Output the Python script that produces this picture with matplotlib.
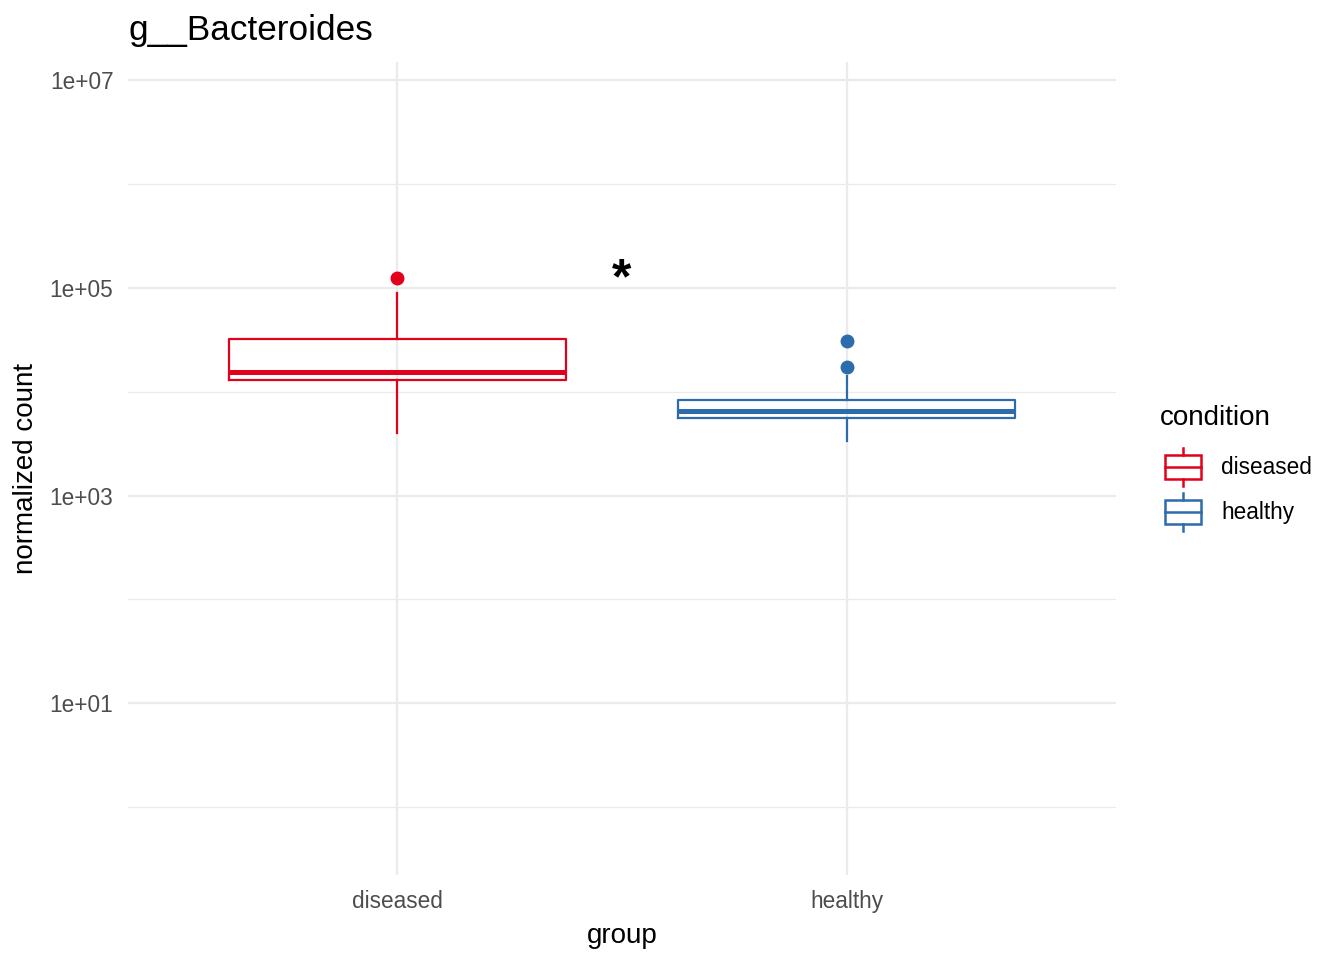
import numpy as np
import matplotlib
matplotlib.use("Agg")
import matplotlib.pyplot as plt
from matplotlib.patches import Rectangle
from matplotlib.lines import Line2D

plt.rcParams['font.family'] = ['Liberation Sans', 'DejaVu Sans']

# data
groups = ["diseased", "healthy"]
colors = ["#E2001B", "#2D6CAC"]
whisker_low = [4000, 3360]
q1 = [13000, 5580]
median = [15500, 6500]
q3 = [32100, 8300]
whisker_high = [89000, 14200]
outliers = [[124000], [30800, 17300]]
title = "g__Bacteroides"
sig_label = "*"
sig_y = 118000

grid_col = "#EBEBEB"
text_col = "#4D4D4D"

fig = plt.figure(figsize=(13.44, 9.6), dpi=100)
ax = fig.add_axes([128 / 1344, 1 - 875 / 960, (1116 - 128) / 1344, (875 - 62) / 960])

stats = []
for i, g in enumerate(groups):
    stats.append(dict(label=g, whislo=whisker_low[i], q1=q1[i], med=median[i],
                      q3=q3[i], whishi=whisker_high[i], fliers=outliers[i]))

pos = np.arange(1, len(groups) + 1)
for i in range(len(groups)):
    c = colors[i]
    ax.bxp([stats[i]], positions=[pos[i]], widths=0.75, showcaps=False,
           boxprops=dict(color=c, linewidth=1.6),
           medianprops=dict(color=c, linewidth=3.6, solid_capstyle='butt'),
           whiskerprops=dict(color=c, linewidth=1.6),
           flierprops=dict(marker='o', markerfacecolor=c, markeredgecolor=c,
                           markersize=9, linestyle='none'),
           zorder=3)

ax.text(1.5, sig_y, sig_label, ha='center', va='center', fontsize=36,
        fontweight='bold', color='black', zorder=4)

ax.set_yscale('log')
ax.set_ylim(10 ** -0.652, 10 ** 7.173)
ax.set_xlim(0.4, 2.6)
ax.set_yticks([1e1, 1e3, 1e5, 1e7])
ax.set_yticklabels(["1e+01", "1e+03", "1e+05", "1e+07"])
ax.set_yticks([1e0, 1e2, 1e4, 1e6], minor=True)
ax.yaxis.set_minor_formatter(plt.NullFormatter())
ax.set_xticks(pos)
ax.set_xticklabels(groups)

ax.grid(True, which='major', color=grid_col, linewidth=1.6, zorder=0)
ax.grid(True, which='minor', axis='y', color=grid_col, linewidth=0.9, zorder=0)
ax.set_axisbelow(True)
for s in ax.spines.values():
    s.set_visible(False)
ax.tick_params(which='both', length=0, labelsize=16.3, labelcolor=text_col)
ax.tick_params(axis='y', pad=10.5)
ax.tick_params(axis='x', pad=11)

ax.set_xlabel("group", fontsize=20, labelpad=7)
ax.set_ylabel("normalized count", fontsize=20, labelpad=8)
ax.set_title(title, fontsize=25.3, loc='left', pad=15.5)

# legend drawn in pixel coords
lg = fig.add_axes([0, 0, 1, 1])
lg.set_xlim(0, 1344)
lg.set_ylim(960, 0)
lg.axis('off')
lg.text(1160, 418, "condition", fontsize=20, va='center', ha='left')
key_centers = [467, 512]
for c, g, yc in zip(colors, groups, key_centers):
    lg.add_patch(Rectangle((1165, yc - 12), 36, 24, fill=False, edgecolor=c, linewidth=1.8))
    lg.add_line(Line2D([1165, 1201], [yc, yc], color=c, linewidth=1.8))
    lg.add_line(Line2D([1183, 1183], [yc - 19, yc - 12], color=c, linewidth=1.8))
    lg.add_line(Line2D([1183, 1183], [yc + 12, yc + 19], color=c, linewidth=1.8))
    lg.text(1221, yc + 1, g, fontsize=16.3, va='center', ha='left')

fig.savefig("out.png", dpi=100, facecolor='white')
